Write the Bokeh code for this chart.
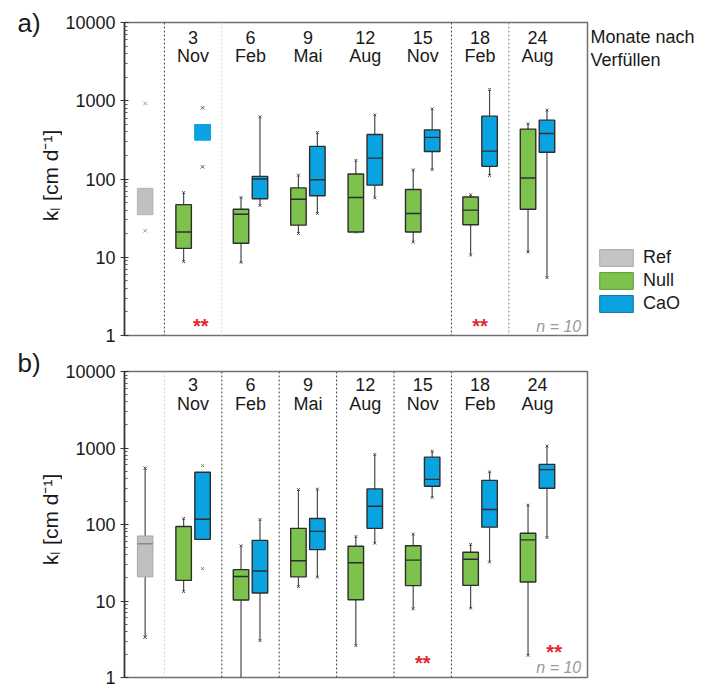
import math
from bokeh.plotting import figure
from bokeh.models import Range1d, Legend, LegendItem, Span, FixedTicker
from bokeh.layouts import column, row
from bokeh.embed import file_html
from bokeh.resources import INLINE
from bokeh.core.properties import value

NaN = float("nan")

# ---------------- data ----------------
months = ["3", "6", "9", "12", "15", "18", "24"]
month_names = ["Nov", "Feb", "Mai", "Aug", "Nov", "Feb", "Aug"]
legend_names = ["Ref", "Null", "CaO"]
y_ticks = [1, 10, 100, 1000, 10000]
y_tick_labels = ["1", "10", "100", "1000", "10000"]

# panel a
a_ref_q1, a_ref_med, a_ref_q3 = 35, NaN, 76
a_ref_extremes = [924, 21.8]
a_null_lo = [8.8, 8.6, 20.1, 21, 15.6, 10.7, 11.7]
a_null_q1 = [13, 15.1, 25.7, 21, 21, 26, 41]
a_null_med = [21, 35.5, 55, 58, 36.3, 40, 103]
a_null_q3 = [47, 41, 77, 116, 73.5, 59, 434]
a_null_hi = [67, 58, 112, 173, 131, 63, 508]
a_cao_lo = [NaN, 46, 36.3, 57.5, 132, 111, 5.5]
a_cao_q1 = [314, 56, 61, 83.5, 225, 145, 220]
a_cao_med = [NaN, 100, 97.7, 185, 340, 227, 382]
a_cao_q3 = [493, 108, 261, 371, 425, 636, 565]
a_cao_hi = [NaN, 624, 393, 662, 789, 1394, 759]
a_cao_extremes_3nov = [813, 143]
a_star_groups = [1, 6]

# panel b
b_ref_lo, b_ref_q1, b_ref_med, b_ref_q3, b_ref_hi = 3.36, 20.7, 56, 70.8, 543
b_null_lo = [13.3, 0.5, 15.4, 2.62, 7.9, 8.05, 1.95]
b_null_q1 = [18.6, 10.3, 20.7, 10.4, 15.9, 16, 17.7]
b_null_med = [NaN, 20.9, 33.6, 31.6, 34.2, 35.2, 63]
b_null_q3 = [94, 25.7, 89, 52, 52.7, 43.3, 76.7]
b_null_hi = [120, 52.7, 286, 69.5, 75, 54.9, 179]
b_cao_lo = [NaN, 3.04, 20.5, 57, 226, 32.3, 67.5]
b_cao_q1 = [64, 12.7, 46.9, 89, 316, 92.4, 298]
b_cao_med = [117, 24.7, 81.3, 173, 389, 157, 522]
b_cao_q3 = [483, 62, 120, 292, 759, 377, 611]
b_cao_hi = [NaN, 116, 290, 822, 906, 488, 1061]
b_cao_extremes_3nov = [588, 26.5]
b_star_groups = [5, 7]

# ---------------- style ----------------
FONT = "Liberation Sans"
TXT = "#1a1a1a"
GRAY = "#C0C0C0"
GREEN = "#7CC24C"
BLUE = "#0AA3E2"
DARK = "#2E2E2E"
WHISK = "#4A4A4A"
STAR = "#E3262E"
BOX_OFF = 0.165
BOX_W = 0.27
X0, X1 = -0.195, 7.871
FRAME_W = 466
PPX = FRAME_W / (X1 - X0)
LEFT_W = 62
MAIN_BL = 59
MAIN_BR = 3
MAIN_W = MAIN_BL + FRAME_W + MAIN_BR
RIGHT_W = 712 - LEFT_W - MAIN_W
AXIS_LABEL = "k\u2097 [cm d\u207b\u00b9]"


def no_align(f):
    try:
        f.frame_align = False
    except Exception:
        pass
    return f


def make_fig(height, top, bottom):
    p = figure(width=MAIN_W, height=height, x_range=Range1d(X0, X1), y_range=Range1d(1, 10000),
               y_axis_type="log", x_axis_location=None, output_backend="svg", title=None,
               toolbar_location=None, min_border_left=MAIN_BL, min_border_right=MAIN_BR,
               min_border_top=top, min_border_bottom=bottom)
    no_align(p)
    p.xgrid.visible = False
    p.ygrid.visible = False
    p.outline_line_color = "#707070"
    p.outline_line_width = 1.5
    minor = [m * 10 ** k for k in range(4) for m in range(2, 10)]
    p.yaxis.ticker = FixedTicker(ticks=y_ticks, minor_ticks=minor)
    p.yaxis.major_label_overrides = {t: s for t, s in zip(y_ticks, y_tick_labels)}
    p.yaxis.major_label_text_font = FONT
    p.yaxis.major_label_text_font_size = "18px"
    p.yaxis.major_label_text_color = TXT
    p.yaxis.major_label_standoff = 5
    p.yaxis.major_tick_out = 4
    p.yaxis.major_tick_in = 4
    p.yaxis.minor_tick_in = 3
    p.yaxis.minor_tick_out = 0
    p.yaxis.axis_line_color = "#333333"
    p.yaxis.axis_line_width = 1.5
    p.yaxis.major_tick_line_color = "#333333"
    p.yaxis.minor_tick_line_color = "#555555"
    return p


def side_fig(width, height):
    f = figure(width=width, height=height, x_range=Range1d(0, width), y_range=Range1d(0, height),
               x_axis_location=None, y_axis_location=None, min_border=0, title=None,
               output_backend="svg", toolbar_location=None)
    no_align(f)
    f.outline_line_color = None
    f.xgrid.visible = False
    f.ygrid.visible = False
    return f


def ydata_from_top(off_px, ppd):
    return 10 ** (4 - off_px / ppd)


def ydata_from_bottom(off_px, ppd):
    return 10 ** (off_px / ppd)


def draw_series(p, xs, lo, q1, med, q3, hi, fill, outline):
    p.segment(x0=xs, y0=lo, x1=xs, y1=q1, line_color=WHISK, line_width=1.2)
    p.segment(x0=xs, y0=q3, x1=xs, y1=hi, line_color=WHISK, line_width=1.2)
    p.scatter(x=xs + xs, y=list(lo) + list(hi), marker="x", size=4, line_color=WHISK, line_width=1)
    p.vbar(x=xs, bottom=q1, top=q3, width=BOX_W, fill_color=fill, line_color=outline, line_width=1.4)
    p.segment(x0=[x - BOX_W / 2 for x in xs], y0=med, x1=[x + BOX_W / 2 for x in xs], y1=med,
              line_color=outline, line_width=1.4)


def decorate(p, ppd, dividers, star_groups, star_offsets, star_heights, n_off, lab_offs):
    for loc, col in dividers:
        p.add_layout(Span(location=loc, dimension="height", line_color=col,
                          line_width=1, line_dash="2 2"))
    gx = list(range(1, 8))
    p.text(x=gx, y=[ydata_from_top(lab_offs[0], ppd)] * 7, text=months, text_font=value(FONT),
           text_font_size="18px", text_align="center", text_baseline="middle", text_color=TXT)
    p.text(x=gx, y=[ydata_from_top(lab_offs[1], ppd)] * 7, text=month_names, text_font=value(FONT),
           text_font_size="18px", text_align="center", text_baseline="middle", text_color=TXT)
    p.text(x=[g + o for g, o in zip(star_groups, star_offsets)],
           y=[ydata_from_bottom(h - 1, ppd) for h in star_heights],
           text=["**"] * len(star_groups), text_font=value(FONT), text_font_size="20px",
           text_font_style="bold", text_align="center", text_baseline="middle", text_color=STAR)
    p.text(x=[X1 - 6.3 / PPX], y=[ydata_from_bottom(n_off, ppd)], text=["n = 10"],
           text_font=value(FONT), text_font_size="16px", text_font_style="italic",
           text_color="#9a9a9a", text_align="right", text_baseline="middle")


def left_panel(height, letter, letter_top, label_center_top):
    f = side_fig(LEFT_W, height)
    f.text(x=[17], y=[height - letter_top], text=[letter], text_font=value(FONT),
           text_font_size="26px", text_align="left", text_baseline="middle", text_color=TXT)
    f.text(x=[49.5], y=[height - label_center_top], text=[AXIS_LABEL], angle=math.pi / 2,
           text_font=value(FONT), text_font_size="21px", text_align="center",
           text_baseline="middle", text_color=TXT)
    return f


xg = [k - BOX_OFF for k in range(1, 8)]
xb = [k + BOX_OFF for k in range(1, 8)]

# ---------------- panel a ----------------
HA = 347
PPD_A = 313 / 4
pa = make_fig(HA, 22, 12)
decorate(pa, PPD_A,
         [(0.5, "#444444"), (1.5, "#d4d4d4"), (5.5, "#444444"), (6.5, "#8a8a8a")],
         a_star_groups, [BOX_OFF - 0.03, 0.0], [11, 11], 9, (14.5, 33))
pa.vbar(x=[BOX_OFF], bottom=[a_ref_q1], top=[a_ref_q3], width=BOX_W, fill_color=GRAY,
        line_color="#b4b4b4", line_width=1)
pa.scatter(x=[BOX_OFF] * 2, y=a_ref_extremes, marker="x", size=5, line_color="#9a9a9a")
draw_series(pa, xg, a_null_lo, a_null_q1, a_null_med, a_null_q3, a_null_hi, GREEN, [DARK] * 7)
draw_series(pa, xb, a_cao_lo, a_cao_q1, a_cao_med, a_cao_q3, a_cao_hi, BLUE, [BLUE] + [DARK] * 6)
pa.scatter(x=[xb[0]] * 2, y=a_cao_extremes_3nov, marker="x", size=5, line_color="#555555")

la = left_panel(HA, "a)", 22.5, 175)

ra = side_fig(RIGHT_W, HA)
ra.text(x=[0, 0], y=[HA - 36, HA - 59], text=["Monate nach", "Verfüllen"],
        text_font=value(FONT), text_font_size="18px", text_align="left",
        text_baseline="middle", text_color=TXT)
# legend swatch renderers (kept off-canvas; only their legend glyphs are visible)
r_ref = ra.vbar(x=[-100], bottom=[-100], top=[-99], width=1, fill_color="#C4C4C4", line_color="#A8A8A8")
r_null = ra.vbar(x=[-100], bottom=[-100], top=[-99], width=1, fill_color=GREEN, line_color="#5E9B3A")
r_cao = ra.vbar(x=[-100], bottom=[-100], top=[-99], width=1, fill_color=BLUE, line_color="#1C6E98")
leg = Legend(items=[LegendItem(label=n, renderers=[r]) for n, r in zip(legend_names, [r_ref, r_null, r_cao])],
             location=(5, HA - 314), glyph_width=42, glyph_height=21, spacing=2,
             label_standoff=6, label_text_font=FONT, label_text_font_size="18px",
             label_text_color=TXT, padding=0, margin=0, border_line_alpha=0,
             background_fill_alpha=0, label_height=21)
ra.add_layout(leg)

# ---------------- panel b ----------------
HB = 341
PPD_B = 306 / 4
pb = make_fig(HB, 24, 11)
decorate(pb, PPD_B,
         [(0.5, "#d0d0d0"), (1.5, "#444444"), (2.5, "#444444"), (3.5, "#444444"),
          (4.5, "#444444"), (5.5, "#444444")],
         b_star_groups, [0.0, 0.29], [15.5, 27], 10, (13, 32))
pb.segment(x0=[BOX_OFF], y0=[b_ref_lo], x1=[BOX_OFF], y1=[b_ref_hi], line_color=WHISK, line_width=1.2)
pb.scatter(x=[BOX_OFF] * 2, y=[b_ref_lo, b_ref_hi], marker="x", size=5, line_color=WHISK)
pb.vbar(x=[BOX_OFF], bottom=[b_ref_q1], top=[b_ref_q3], width=BOX_W, fill_color=GRAY,
        line_color="#a8a8a8", line_width=1)
pb.segment(x0=[BOX_OFF - BOX_W / 2], y0=[b_ref_med], x1=[BOX_OFF + BOX_W / 2], y1=[b_ref_med],
           line_color="#8a8a8a", line_width=1.4)
draw_series(pb, xg, b_null_lo, b_null_q1, b_null_med, b_null_q3, b_null_hi, GREEN, [DARK] * 7)
draw_series(pb, xb, b_cao_lo, b_cao_q1, b_cao_med, b_cao_q3, b_cao_hi, BLUE, [DARK] * 7)
pb.scatter(x=[xb[0]] * 2, y=b_cao_extremes_3nov, marker="x", size=4, line_color="#777777")

lb = left_panel(HB, "b)", 15.5, 172)

layout = column(row(la, pa, ra), row(lb, pb))
open("out.html", "w").write(file_html(layout, INLINE))
